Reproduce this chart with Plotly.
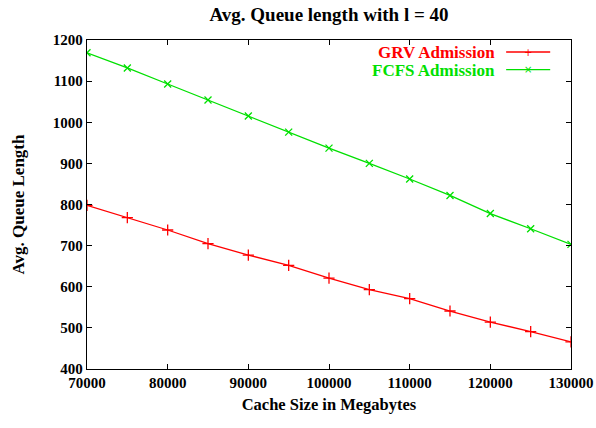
import plotly.graph_objects as go

cache_size = [70000, 75000, 80000, 85000, 90000, 95000, 100000, 105000, 110000, 115000, 120000, 125000, 130000]
grv_queue = [798, 768, 738, 705, 677, 652, 621, 593, 571, 541, 514, 491, 466]
fcfs_queue = [1169, 1132, 1093, 1054, 1015, 976, 937, 900, 862, 822, 778, 741, 703]

x_ticks = [70000, 80000, 90000, 100000, 110000, 120000, 130000]
y_ticks = [400, 500, 600, 700, 800, 900, 1000, 1100, 1200]

RED = "#ff0000"
GREEN = "#00e000"
FONT = "Liberation Serif"

fig = go.Figure()
fig.add_trace(go.Scatter(
    x=cache_size, y=grv_queue, mode="lines+markers", name="GRV Admission",
    line=dict(color=RED, width=1.3),
    marker=dict(symbol="cross-thin-open", size=8, line=dict(color=RED, width=1.3)),
    showlegend=False))
fig.add_trace(go.Scatter(
    x=cache_size, y=fcfs_queue, mode="lines+markers", name="FCFS Admission",
    line=dict(color=GREEN, width=1.3),
    marker=dict(symbol="x-thin-open", size=7, line=dict(color=GREEN, width=1.3)),
    showlegend=False))

axis_common = dict(
    showline=True, linecolor="black", linewidth=1.3, mirror="ticks",
    ticks="inside", ticklen=5, tickcolor="black", tickwidth=1,
    showgrid=False, zeroline=False, automargin=False,
    tickfont=dict(family=FONT, size=15, color="black"),
)

fig.update_xaxes(range=[70000, 130000], tickvals=x_ticks,
                 ticktext=["<b>%d</b>" % v for v in x_ticks],
                 title=dict(text="<b>Cache Size in Megabytes</b>", font=dict(family=FONT, size=16.5, color="black"), standoff=8),
                 **axis_common)
fig.update_yaxes(range=[400, 1200], tickvals=y_ticks,
                 ticktext=["<b>%d</b>" % v for v in y_ticks],
                 title=dict(text="<b>Avg. Queue Length</b>", font=dict(family=FONT, size=17, color="black"), standoff=23),
                 **axis_common)

# gnuplot-style legend: text on the left, sample on the right
legend_items = [("GRV Admission", RED, "+", 0.9635), ("FCFS Admission", GREEN, "×", 0.9100)]
for name, col, sym, yy in legend_items:
    fig.add_annotation(xref="paper", yref="paper", x=0.847, y=yy, text="<b>%s</b>" % name,
                       showarrow=False, xanchor="right", yanchor="middle", height=16,
                       font=dict(family=FONT, size=17, color=col))
    fig.add_shape(type="line", xref="paper", yref="paper", x0=0.866, x1=0.957, y0=yy, y1=yy,
                  line=dict(color=col, width=1.3))
    fig.add_annotation(xref="paper", yref="paper", x=0.911, y=yy, text=sym,
                       showarrow=False, xanchor="center", yanchor="middle",
                       font=dict(family="DejaVu Sans", size=10, color=col))

fig.update_layout(
    width=596, height=428,
    margin=dict(l=87, r=25, t=40, b=59),
    paper_bgcolor="white", plot_bgcolor="white",
    title=dict(text="<b>Avg. Queue length with l = 40</b>", x=0.5, xref="paper", xanchor="center",
               y=0.966, yanchor="middle", font=dict(family=FONT, size=19, color="black")),
)

fig.write_html("out.html", config={"displayModeBar": False},
               post_script="document.body.style.margin='0';")
